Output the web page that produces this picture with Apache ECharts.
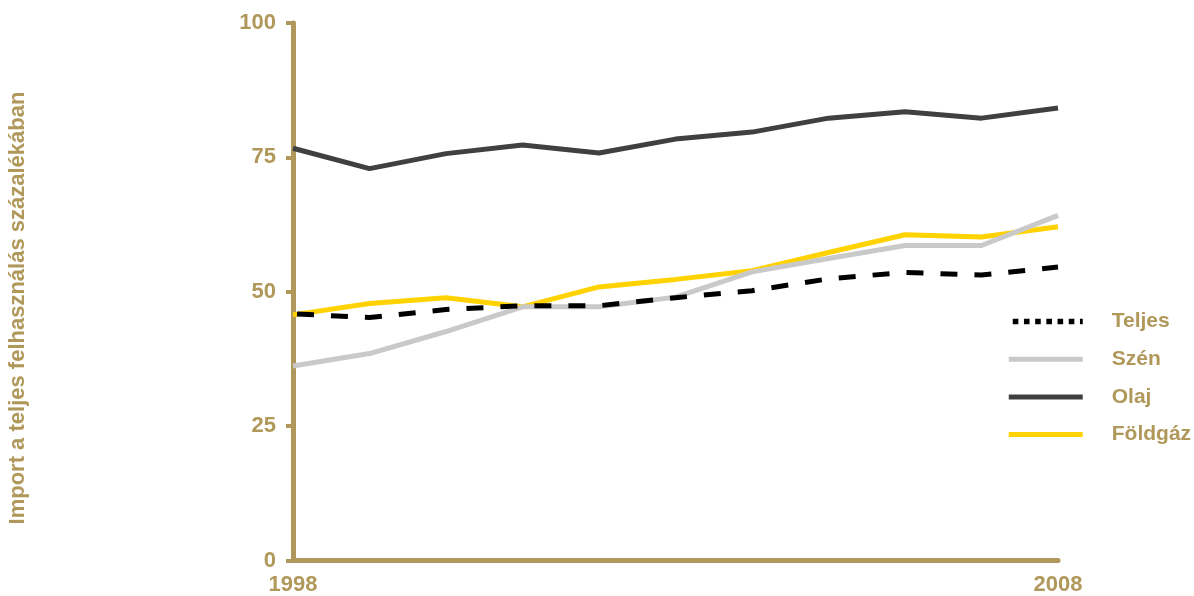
<!DOCTYPE html>
<html>
<head>
<meta charset="utf-8">
<script src="https://cdn.jsdelivr.net/npm/echarts@6/dist/echarts.min.js"></script>
<style>
html,body{margin:0;padding:0;background:#fff;}
#chart{width:1194px;height:596px;}
</style>
</head>
<body>
<div id="chart"></div>
<script>
var years = [1998,1999,2000,2001,2002,2003,2004,2005,2006,2007,2008];
var teljes = [45.9,45.2,46.7,47.4,47.4,48.9,50.2,52.4,53.6,53.1,54.6];
var szen = [36.2,38.5,42.6,47.2,47.2,49.0,53.7,56.2,58.6,58.6,64.2];
var olaj = [76.7,72.9,75.7,77.3,75.8,78.4,79.7,82.3,83.5,82.3,84.2];
var foldgaz = [45.7,47.8,48.9,47.2,50.9,52.3,53.9,57.3,60.6,60.2,62.1];
var yTicks = [0,25,50,75,100];
var seriesNames = ['Teljes','Szén','Olaj','Földgáz'];
var axisName = 'Import a teljes felhasználás százalékában';

var gold = '#B0985A';
function pairs(v){ return years.map(function(y,i){ return [y, v[i]]; }); }

var chart = echarts.init(document.getElementById('chart'));
chart.setOption({
  animation:false,
  backgroundColor:'#fff',
  grid:{left:293, top:23, right:136, bottom:35.5, containLabel:false},
  xAxis:{
    type:'value', min:years[0], max:years[years.length-1], interval:10,
    axisLine:{show:true, lineStyle:{color:gold, width:5}},
    axisTick:{show:false},
    splitLine:{show:false},
    axisLabel:{color:gold, fontSize:22, fontWeight:'bold', fontFamily:'Liberation Sans, Arial, sans-serif', margin:13,
      formatter:function(v){ return String(v); }}
  },
  yAxis:{
    type:'value', min:yTicks[0], max:yTicks[yTicks.length-1], interval:25,
    axisLine:{show:true, lineStyle:{color:gold, width:5}},
    axisTick:{show:true, length:7, lineStyle:{color:gold, width:4}},
    splitLine:{show:false},
    axisLabel:{color:gold, fontSize:22, fontWeight:'bold', fontFamily:'Liberation Sans, Arial, sans-serif', margin:17}
  },
  graphic:[{
    type:'text', x:18, y:308, rotation:Math.PI/2,
    style:{text:axisName, fill:gold, font:'bold 22px "Liberation Sans", Arial, sans-serif', align:'center', verticalAlign:'middle'}
  }],
  legend:{
    orient:'vertical', left:1001, top:306,
    itemWidth:74, itemHeight:14, itemGap:16.7,
    itemStyle:{color:'rgba(0,0,0,0)', borderColor:'rgba(0,0,0,0)', borderWidth:0, opacity:0},
    lineStyle:{width:5},
    textStyle:{color:gold, fontSize:21, fontWeight:'bold', fontFamily:'Liberation Sans, Arial, sans-serif', padding:[0,0,0,24], lineHeight:21},
    data:[
      {name:seriesNames[0], lineStyle:{type:[5.6,5.6], width:5.5, cap:'butt'}},
      {name:seriesNames[1]},
      {name:seriesNames[2]},
      {name:seriesNames[3]}
    ]
  },
  series:[
    {name:seriesNames[3], type:'line', data:pairs(foldgaz), symbol:'none', z:2,
      lineStyle:{color:'#FFD200', width:5}, itemStyle:{color:'#FFD200'}},
    {name:seriesNames[1], type:'line', data:pairs(szen), symbol:'none', z:3,
      lineStyle:{color:'#C9C9C9', width:5}, itemStyle:{color:'#C9C9C9'}},
    {name:seriesNames[2], type:'line', data:pairs(olaj), symbol:'none', z:3,
      lineStyle:{color:'#404040', width:5}, itemStyle:{color:'#404040'}},
    {name:seriesNames[0], type:'line', data:pairs(teljes), symbol:'none', z:4,
      lineStyle:{color:'#000000', width:5, type:[17,17], dashOffset:-4}, itemStyle:{color:'#000000'}}
  ]
});
</script>
</body>
</html>
